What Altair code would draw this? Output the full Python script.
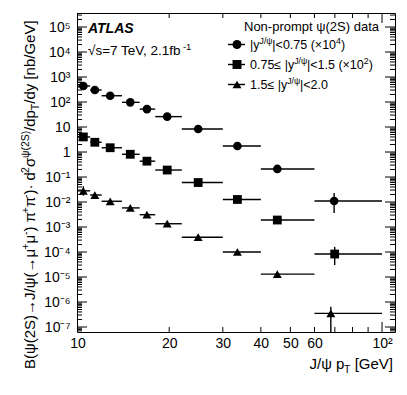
import altair as alt
import pandas as pd

# ---------------- data ----------------
bin_lo = [10, 11, 12, 14, 16, 18, 22, 30, 40, 60]
bin_hi = [11, 12, 14, 16, 18, 22, 30, 40, 60, 100]
series = ["c", "s", "t"]
pt_c = [10.45, 11.4, 12.8, 14.9, 16.9, 19.7, 24.9, 33.5, 45.3, 69.6]
pt_s = [10.45, 11.4, 12.8, 14.9, 16.9, 19.7, 24.9, 33.5, 45.3, 69.9]
pt_t = [10.45, 11.4, 12.8, 14.9, 16.9, 19.7, 24.9, 33.5, 45.3, 67.9]
val_c = [437, 302, 178, 97, 52, 26, 8.3, 1.74, 0.21, 0.011]
val_s = [4.0, 2.45, 1.48, 0.81, 0.43, 0.19, 0.060, 0.0126, 0.0019, 8.3e-5]
val_t = [0.028, 0.019, 0.0107, 0.0058, 0.0031, 0.00135, 3.9e-4, 1.0e-4, 1.3e-5, 3.5e-7]

# visible vertical error bars
err_series = ["c", "s", "t", "t"]
err_x = [69.6, 69.9, 67.9, 10.45]
err_lo = [0.0036, 3.0e-5, 1e-9, 0.018]
err_hi = [0.023, 1.6e-4, 6.5e-7, 0.043]

y_major = [1e-7, 1e-6, 1e-5, 1e-4, 1e-3, 1e-2, 1e-1, 1, 10, 100, 1e3, 1e4, 1e5]
y_tick_labels = ["10⁻⁷", "10⁻⁶", "10⁻⁵", "10⁻⁴", "10⁻³", "10⁻²", "10⁻¹", "1", "10",
                 "10²", "10³", "10⁴", "10⁵"]
y_minor = [k * 10.0 ** e for e in range(-8, 6) for k in range(2, 10)]
x_label_vals = [10, 20, 30, 40, 50, 60, 100]
x_minor = [20, 30, 40, 50, 60, 70, 80, 90]
x_major = [10, 100]

ytitle_parts = [("B(ψ(2S)→J/ψ(→μ", "n"), ("+", "sup"), ("μ", "n"), ("-", "sup"),
                (") π", "n"), ("+", "sup"), ("π", "n"), ("-", "sup"), (")· d", "n"),
                ("2", "sup"), ("σ", "n"), ("ψ(2S)", "sup"), ("/dp", "n"), ("T", "sub"),
                ("/dy [nb/GeV]", "n")]
xtitle_parts = [("J/ψ p", "n"), ("T", "sub"), (" [GeV]", "n")]
energy_parts = [("√s=7 TeV, 2.1fb", "n"), ("-1", "sup")]
legend_title = "Non-prompt ψ(2S) data"
legend_parts = [
    [("|y", "n"), ("J/ψ", "sup"), ("|<0.75 (×10", "n"), ("4", "sup"), (")", "n")],
    [("0.75≤ |y", "n"), ("J/ψ", "sup"), ("|<1.5 (×10", "n"), ("2", "sup"), (")", "n")],
    [("1.5≤ |y", "n"), ("J/ψ", "sup"), ("|<2.0", "n")],
]
legend_shapes = ["circle", "square", "triangle-up"]

# ---------------- layout ----------------
W, H = 318, 319
FONT = "Liberation Sans"
xs = alt.Scale(type="log", domain=[9.96, 110.3], nice=False, zero=False)
ys = alt.Scale(type="log", domain=[10 ** -7.2, 10 ** 5.56], nice=False, zero=False)

ylabel_expr = "[" + ",".join("'%s'" % s for s in y_tick_labels) + "][round(log(datum.value)/LN10)+7]"
x_axis = alt.Axis(values=x_label_vals, labelExpr="datum.value == 100 ? '10²' : '' + datum.value",
                  title=None, ticks=False, domain=False, grid=False, labelFlush=False,
                  labelOverlap=False, labelPadding=4, labelFontSize=14, labelFont=FONT,
                  labelColor="black")
y_axis = alt.Axis(values=y_major, labelExpr=ylabel_expr, title=None, ticks=False, domain=False,
                  grid=False, labelFlush=False, labelOverlap=False, labelPadding=7,
                  labelFontSize=14, labelFont=FONT, labelColor="black")

rows = []
for name, pts, vals in zip(series, [pt_c, pt_s, pt_t], [val_c, val_s, val_t]):
    for lo, hi, p, v in zip(bin_lo, bin_hi, pts, vals):
        rows.append({"series": name, "lo": lo, "hi": hi, "pt": p, "val": v})
df = pd.DataFrame(rows)
edf = pd.DataFrame({"series": err_series, "pt": err_x, "elo": err_lo, "ehi": err_hi})

shape_scale = alt.Scale(domain=series, range=legend_shapes)
size_scale = alt.Scale(domain=series, range=[75, 80, 80])

hbars = alt.Chart(df).mark_rule(color="black", strokeWidth=1.4, clip=True).encode(
    x=alt.X("lo:Q", scale=xs, axis=x_axis), x2="hi:Q",
    y=alt.Y("val:Q", scale=ys, axis=y_axis))
vbars = alt.Chart(edf).mark_rule(color="black", strokeWidth=1.4, clip=True).encode(
    x=alt.X("pt:Q", scale=xs, axis=x_axis),
    y=alt.Y("elo:Q", scale=ys, axis=y_axis), y2="ehi:Q")
points = alt.Chart(df).mark_point(filled=True, opacity=1, color="black", clip=True).encode(
    x=alt.X("pt:Q", scale=xs, axis=x_axis),
    y=alt.Y("val:Q", scale=ys, axis=y_axis),
    shape=alt.Shape("series:N", scale=shape_scale, legend=None),
    size=alt.Size("series:N", scale=size_scale, legend=None))

def yticks(vals, length):
    d = pd.DataFrame({"v": [v for v in vals if 10 ** -7.2 <= v <= 10 ** 5.56]})
    left = alt.Chart(d).mark_rule(color="black", strokeWidth=1).encode(
        y=alt.Y("v:Q", scale=ys, axis=y_axis), x=alt.value(0), x2=alt.value(length))
    right = alt.Chart(d).mark_rule(color="black", strokeWidth=1).encode(
        y=alt.Y("v:Q", scale=ys, axis=y_axis), x=alt.value(W), x2=alt.value(W - length))
    return [left, right]

def xticks(vals, length):
    d = pd.DataFrame({"v": vals})
    bot = alt.Chart(d).mark_rule(color="black", strokeWidth=1).encode(
        x=alt.X("v:Q", scale=xs, axis=x_axis), y=alt.value(H), y2=alt.value(H - length))
    top = alt.Chart(d).mark_rule(color="black", strokeWidth=1).encode(
        x=alt.X("v:Q", scale=xs, axis=x_axis), y=alt.value(0), y2=alt.value(length))
    return [bot, top]

CW = {' ': .278, '|': .26, 'y': .5, '<': .584, '.': .278, '(': .333, ')': .333, '×': .584,
      '≤': .549, 'J': .5, '/': .278, 'ψ': .69, 'B': .667, 'S': .667, '→': 1.0, 'μ': .576,
      '+': .584, '-': .333, 'π': .6, '·': .278, 'd': .556, 'σ': .6, 'p': .556, 'T': .611,
      '[': .278, ']': .278, 'n': .556, 'b': .556, 'G': .778, 'e': .556, 'V': .667,
      's': .5, '=': .584, 'f': .278, ',': .278, '√': .5}

dummy = pd.DataFrame({"a": [0]})

def rich(parts, x0, y0, fs, angle=0, align_end=False):
    items = []
    for txt, kind in parts:
        size = fs if kind == "n" else fs * 0.7
        w = sum(CW.get(c, .556) for c in txt) * size
        items.append((txt, kind, size, w))
    total = sum(i[3] for i in items)
    pos = -total if align_end else 0.0
    out = []
    for txt, kind, size, w in items:
        off = {"n": 0.0, "sup": -0.4 * fs, "sub": 0.25 * fs}[kind]
        lead = (len(txt) - len(txt.lstrip(" "))) * CW[" "] * size
        p = pos + lead
        if angle == 0:
            x, y = x0 + p, y0 + off
        else:
            x, y = x0 + off, y0 - p
        out.append(alt.Chart(dummy).mark_text(
            align="left", baseline="alphabetic", angle=angle, font=FONT, fontSize=size,
            color="black").encode(x=alt.value(x), y=alt.value(y), text=alt.value(txt.strip(" "))))
        pos += w
    return out

layers = []
layers += yticks(y_major, 10) + yticks(y_minor, 5)
layers += xticks(x_minor, 5) + xticks(x_major, 10)
layers += [hbars, vbars, points]
layers += rich(ytitle_parts, -42, 356, 15, angle=270)
layers += rich(xtitle_parts, 316, 356, 15, align_end=True)
layers.append(alt.Chart(dummy).mark_text(
    align="left", baseline="alphabetic", font=FONT, fontSize=14, fontWeight="bold",
    fontStyle="italic", color="black").encode(x=alt.value(11), y=alt.value(20), text=alt.value("ATLAS")))
layers += rich(energy_parts, 11, 42, 13.5)
layers.append(alt.Chart(dummy).mark_text(
    align="left", baseline="alphabetic", font=FONT, fontSize=13, color="black").encode(
    x=alt.value(167), y=alt.value(18), text=alt.value(legend_title)))
for i, (parts, shp) in enumerate(zip(legend_parts, legend_shapes)):
    yc = 31.5 + 20 * i
    layers.append(alt.Chart(dummy).mark_rule(color="black", strokeWidth=1.4).encode(
        x=alt.value(151), x2=alt.value(168), y=alt.value(yc)))
    layers.append(alt.Chart(dummy).mark_point(filled=True, opacity=1, color="black", size=80).encode(
        x=alt.value(160), y=alt.value(yc), shape=alt.value(shp)))
    layers += rich(parts, 173, yc + 4.5, 12.5)

chart = alt.layer(*layers).properties(
    width=W, height=H, autosize="none",
    padding={"left": 69, "top": 5, "right": 4, "bottom": 55},
).configure_view(stroke="black", strokeWidth=1)

chart.save("out.html", embed_options={"renderer": "svg", "actions": False})
